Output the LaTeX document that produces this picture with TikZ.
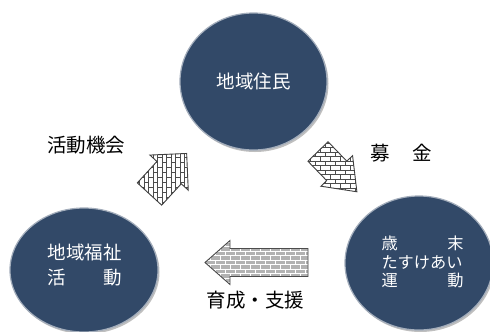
\documentclass[tikz,border=0pt]{standalone}
\usepackage{fontspec}
\setmainfont{Noto Sans CJK JP}
\usetikzlibrary{shapes.geometric,patterns}
\definecolor{navy}{RGB}{50,73,104}
\pgfdeclarepatternformonly{hbrick}{\pgfqpoint{-0.5pt}{-0.5pt}}{\pgfqpoint{10.5pt}{9.5pt}}{\pgfqpoint{10pt}{9pt}}{%
  \pgfsetlinewidth{0.5pt}%
  \pgfpathmoveto{\pgfqpoint{0pt}{0pt}}\pgfpathlineto{\pgfqpoint{10pt}{0pt}}%
  \pgfpathmoveto{\pgfqpoint{0pt}{4.5pt}}\pgfpathlineto{\pgfqpoint{10pt}{4.5pt}}%
  \pgfpathmoveto{\pgfqpoint{0pt}{0pt}}\pgfpathlineto{\pgfqpoint{0pt}{4.5pt}}%
  \pgfpathmoveto{\pgfqpoint{5pt}{4.5pt}}\pgfpathlineto{\pgfqpoint{5pt}{9pt}}%
  \pgfusepath{stroke}}
\pgfdeclarepatternformonly{vbrick}{\pgfqpoint{-0.5pt}{-0.5pt}}{\pgfqpoint{9.5pt}{10.5pt}}{\pgfqpoint{9pt}{10pt}}{%
  \pgfsetlinewidth{0.5pt}%
  \pgfpathmoveto{\pgfqpoint{0pt}{0pt}}\pgfpathlineto{\pgfqpoint{0pt}{10pt}}%
  \pgfpathmoveto{\pgfqpoint{4.5pt}{0pt}}\pgfpathlineto{\pgfqpoint{4.5pt}{10pt}}%
  \pgfpathmoveto{\pgfqpoint{0pt}{0pt}}\pgfpathlineto{\pgfqpoint{4.5pt}{0pt}}%
  \pgfpathmoveto{\pgfqpoint{4.5pt}{5pt}}\pgfpathlineto{\pgfqpoint{9pt}{5pt}}%
  \pgfusepath{stroke}}
\newcommand\BlkArrow[8]{% style, x, y (tail middle), angle, length, half shaft, half head, head length
  \path[#1, shift={(#2,#3)}, rotate=#4]
    (0,-#6) -- ({#5-#8},-#6) -- ({#5-#8},-#7) -- (#5,0) -- ({#5-#8},#7)
    -- ({#5-#8},#6) -- (0,#6) -- cycle;}
\tikzset{
  circ/.style={ellipse, inner sep=0pt, fill=navy, draw=white!55!navy, line width=1.2pt,
    preaction={fill=black!25, transform canvas={shift={(1.5pt,-2pt)}}}},
  intext/.style={text=white, inner sep=0pt, align=left},
  lbl/.style={text=black, inner sep=0pt, font=\fontsize{19.5}{23}\selectfont},
  arrw/.style={draw=black!75, line width=0.9pt, line join=miter, preaction={fill=white},
    pattern color=black!70},
  arrdark/.style={draw=black!70, line width=0.9pt, line join=miter, preaction={fill=gray!60},
    pattern=hbrick, pattern color=white}
}
\begin{document}
\begin{tikzpicture}[x=1pt,y=-1pt]
\useasboundingbox (0,0) rectangle (490,332);
\clip (0,0) rectangle (490,332);
\fill[white] (0,0) rectangle (490,332);
% circles
\node[circ, minimum width=147pt, minimum height=137pt] (jumin) at (253.5,81.5) {};
\node[circ, minimum width=148pt, minimum height=124pt] (fukushi) at (84,270) {};
\node[circ, minimum width=148pt, minimum height=134pt] (tasuke) at (419,263) {};
% circle texts
\node[intext, font=\fontsize{18.5}{22}\selectfont] (t1) at (jumin.center) {地域住民};
\node[intext, text width=75pt, font=\fontsize{18.5}{25}\selectfont] (t2) at (85,265.5)
  {地域福祉\\活\hfill 動};
\node[intext, text width=82pt, font=\fontsize{16.2}{18.5}\selectfont] (t3) at (422.5,262)
  {歳\hfill 末\\たすけあい\\運\hfill 動};
% block arrows
\BlkArrow{arrw, pattern=vbrick}{149.5}{194}{47.5}{55}{16.5}{26}{26}
\BlkArrow{arrw, pattern=hbrick}{318}{151.5}{-46}{56}{14}{22}{29}
\BlkArrow{arrdark}{308}{262.5}{180}{103}{14}{22}{25}
% labels
\node[lbl] (l1) at (86,145) {活動機会};
\node[lbl] (l2) at (401,153) {募\hspace{0.15em}　金};
\node[lbl] (l3) at (255.5,300) {育成・支援};
\end{tikzpicture}
\end{document}
